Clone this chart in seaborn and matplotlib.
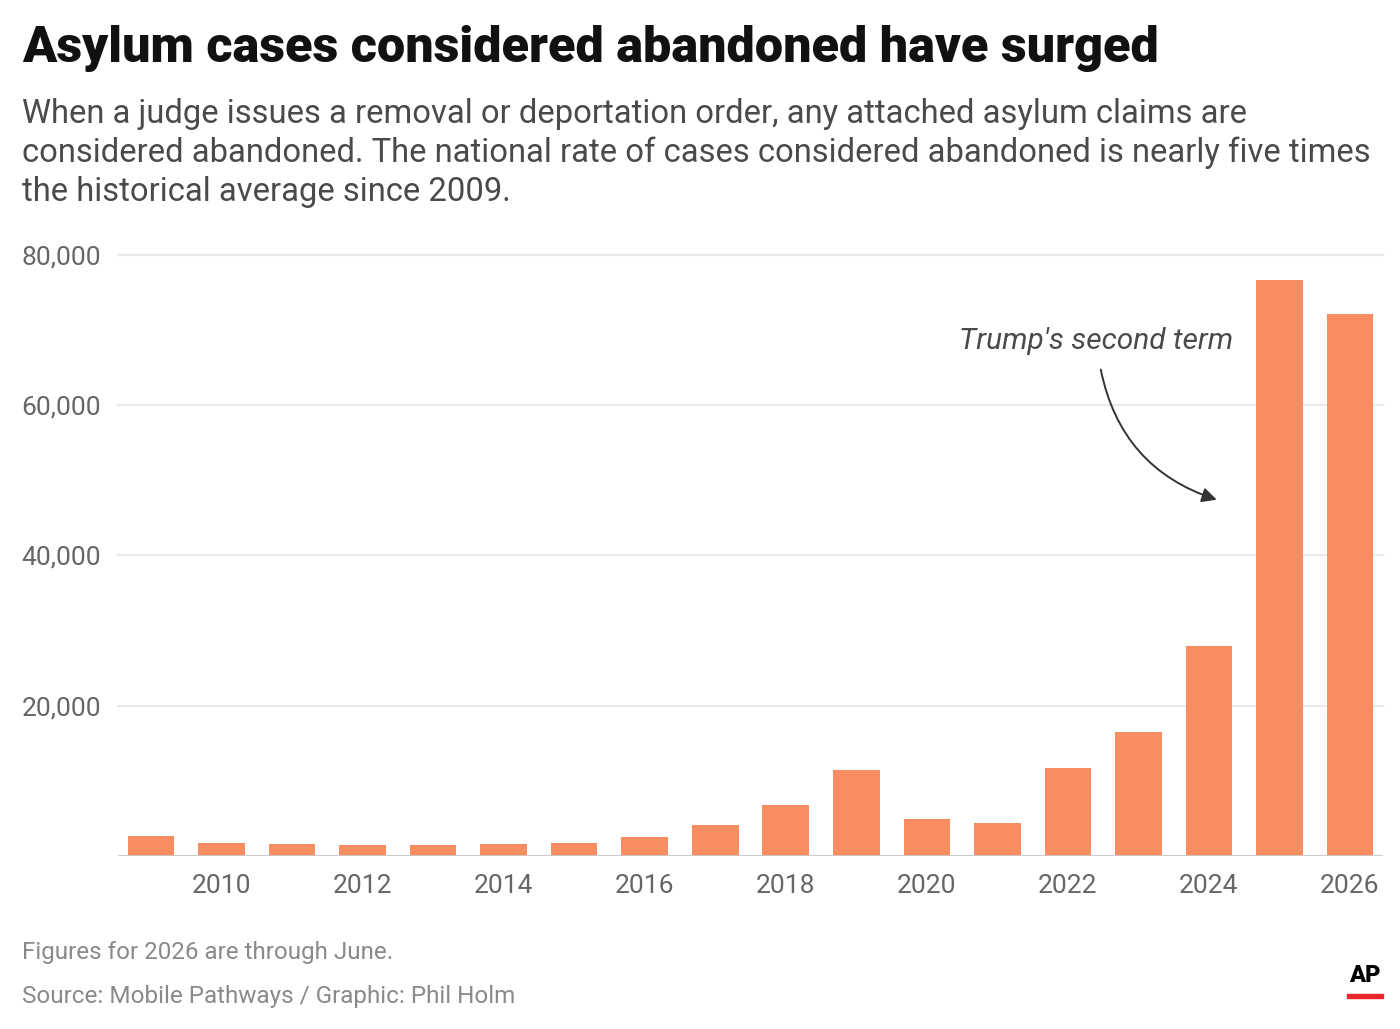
import matplotlib
matplotlib.use("Agg")
import matplotlib.pyplot as plt
import seaborn as sns
import pandas as pd
from matplotlib.patches import FancyArrowPatch, Rectangle

# ---- data ----
years = [2009, 2010, 2011, 2012, 2013, 2014, 2015, 2016, 2017, 2018,
         2019, 2020, 2021, 2022, 2023, 2024, 2025, 2026]
cases = [2600, 1700, 1550, 1450, 1450, 1550, 1700, 2500, 4100, 6800,
         11400, 4900, 4400, 11700, 16500, 27900, 76700, 72100]
ytick_vals = [20000, 40000, 60000, 80000]
ytick_labels = ["20,000", "40,000", "60,000", "80,000"]
xtick_vals = [2010, 2012, 2014, 2016, 2018, 2020, 2022, 2024, 2026]

title = "Asylum cases considered abandoned have surged"
subtitle = ("When a judge issues a removal or deportation order, any attached asylum claims are\n"
            "considered abandoned. The national rate of cases considered abandoned is nearly five times\n"
            "the historical average since 2009.")
note = "Figures for 2026 are through June."
source = "Source: Mobile Pathways / Graphic: Phil Holm"
annot = "Trump's second term"

df = pd.DataFrame({"year": years, "cases": cases})

sns.set_theme(style="white")
plt.rcParams["font.family"] = ["Roboto", "DejaVu Sans"]

W, H = 1400, 1029
fig = plt.figure(figsize=(W / 100, H / 100), dpi=100)
ax_left, ax_right, ax_bottom_px, ax_top_px = 118, 1383, 855.7, 255
ax = fig.add_axes([ax_left / W, 1 - ax_bottom_px / H, (ax_right - ax_left) / W,
                   (ax_bottom_px - ax_top_px) / H])

sns.barplot(data=df, x="year", y="cases", native_scale=True, width=0.66,
            color="#F98D62", saturation=1, ax=ax, zorder=3, linewidth=0)

ax.set_xlim(2008.53, 2026.47)
ax.set_ylim(0, 80000)
for v in ytick_vals:
    ax.axhline(v, color="#e9e9e9", lw=1.5, zorder=1, clip_on=False)
ax.axhline(0, color="#c8c8c8", lw=2, zorder=4)

for s in ax.spines.values():
    s.set_visible(False)
ax.set_yticks(ytick_vals)
ax.set_yticklabels(ytick_labels)
ax.set_xticks(xtick_vals)
ax.set_xticklabels([str(x) for x in xtick_vals])
ax.tick_params(axis="both", length=0, labelsize=19, labelcolor="#666666")
ax.tick_params(axis="y", pad=12)
ax.tick_params(axis="x", pad=13)
ax.set_xlabel("")
ax.set_ylabel("")
ax.grid(False)

# annotation
ax.text(2022.4, 68600, annot, ha="center", va="center", fontsize=21.5,
        style="italic", color="#4a4a4a", zorder=5)
arrow = FancyArrowPatch((2022.46, 65100), (2024.15, 47300),
                        connectionstyle="arc3,rad=0.3", arrowstyle="-|>",
                        mutation_scale=22, color="#333333", lw=1.4, zorder=5)
ax.add_patch(arrow)

# titles
fig.text(22 / W, 1 - 49 / H, title, ha="left", va="center", fontsize=36.3,
         fontweight="heavy", color="#111111")
fig.text(22 / W, 1 - 153 / H, subtitle, ha="left", va="center", fontsize=23.6,
         color="#4a4a4a", linespacing=1.28)

fig.text(22 / W, 1 - 952 / H, note, ha="left", va="center", fontsize=17.4,
         color="#8a8a8a")
fig.text(22 / W, 1 - 996 / H, source, ha="left", va="center", fontsize=17.5,
         color="#8a8a8a")

# AP logo
fig.text(1365 / W, 1 - 976 / H, "AP", ha="center", va="center", fontsize=17,
         fontweight="heavy", color="#000000", fontstretch="condensed")
fig.patches.append(Rectangle((1347 / W, 1 - 998 / H), 36 / W, 4 / H,
                             transform=fig.transFigure, color="#e8262b"))

fig.savefig("out.png", dpi=100)
